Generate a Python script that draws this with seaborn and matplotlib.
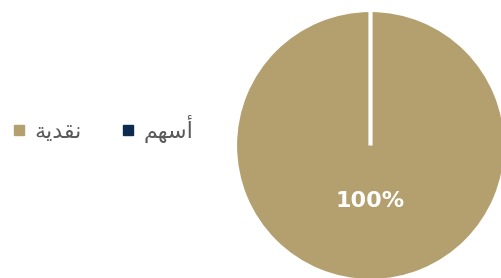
import matplotlib
matplotlib.use("Agg")
import matplotlib.pyplot as plt
from matplotlib.lines import Line2D
import seaborn as sns

# ---- data ----
categories = ["نقدية", "أسهم"]
values = [100, 0]
colors = ["#B3A06E", "#0C2B4E"]

# ---- minimal Arabic shaping for display (presentation forms + visual order) ----
FORMS = {  # isolated, final, initial, medial
    "ن": ("\uFEE5", "\uFEE6", "\uFEE7", "\uFEE8"),
    "ق": ("\uFED5", "\uFED6", "\uFED7", "\uFED8"),
    "د": ("\uFEA9", "\uFEAA", None, None),
    "ي": ("\uFEF1", "\uFEF2", "\uFEF3", "\uFEF4"),
    "ة": ("\uFE93", "\uFE94", None, None),
    "أ": ("\uFE83", "\uFE84", None, None),
    "س": ("\uFEB1", "\uFEB2", "\uFEB3", "\uFEB4"),
    "ه": ("\uFEE9", "\uFEEA", "\uFEEB", "\uFEEC"),
    "م": ("\uFEE1", "\uFEE2", "\uFEE3", "\uFEE4"),
}


def dual(c):
    return c in FORMS and FORMS[c][2] is not None


def shape(s):
    out = []
    for i, c in enumerate(s):
        if c not in FORMS:
            out.append(c)
            continue
        jp = i > 0 and dual(s[i - 1])
        jn = i < len(s) - 1 and dual(c) and s[i + 1] in FORMS
        if jp and jn:
            f = FORMS[c][3]
        elif jp:
            f = FORMS[c][1]
        elif jn:
            f = FORMS[c][2]
        else:
            f = FORMS[c][0]
        out.append(f)
    return "".join(reversed(out))


sns.set_theme(style="white")
plt.rcParams["font.family"] = ["DejaVu Sans"]

fig = plt.figure(figsize=(5.02, 2.78), dpi=100)
ax = fig.add_axes([235 / 502, -3 / 278, 271 / 502, 271 / 278])

wedges, texts, autotexts = ax.pie(
    values,
    colors=colors,
    startangle=90,
    autopct=lambda p: f"{p:.0f}%" if p > 0 else "",
    pctdistance=0.41,
    wedgeprops=dict(edgecolor="white", linewidth=3),
    textprops=dict(color="white", fontsize=16, fontweight="bold"),
)
ax.set_xlim(-1, 1)
ax.set_ylim(-1, 1)
ax.set_aspect("equal")
ax.axis("off")
for w in wedges:
    w.set_clip_on(False)

handles = [
    Line2D([], [], marker="s", linestyle="", markersize=7, color=c)
    for c in colors
]
fig.legend(
    handles,
    [shape(c) for c in categories],
    loc="center left",
    bbox_to_anchor=(10 / 502, 1 - 129 / 278),
    ncol=2,
    frameon=False,
    fontsize=16,
    labelcolor="#595959",
    handlelength=0.8,
    handletextpad=0.3,
    columnspacing=1.7,
    borderaxespad=0,
    borderpad=0,
)

fig.savefig("out.png", dpi=100)
